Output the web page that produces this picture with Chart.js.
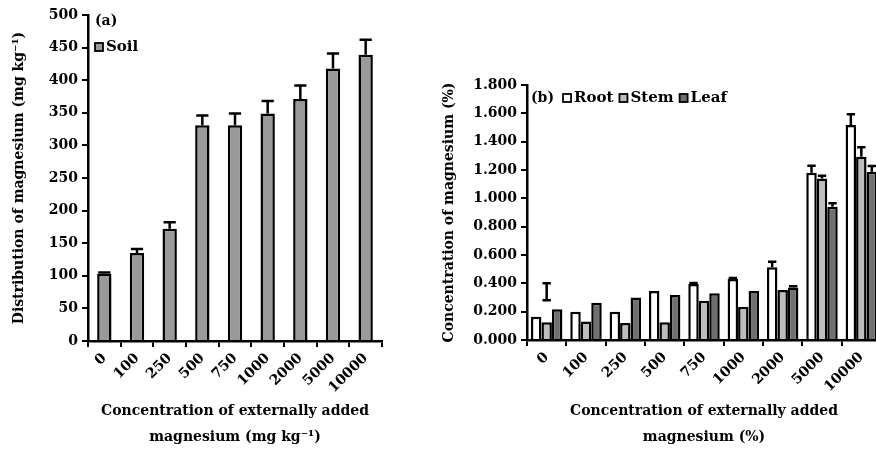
<!DOCTYPE html>
<html>
<head>
<meta charset="utf-8">
<script src="https://cdn.jsdelivr.net/npm/chart.js@4.4.1/dist/chart.umd.min.js"></script>
<style>
  html, body { margin: 0; padding: 0; background: #fff; overflow: hidden; width: 876px; height: 451px; }
  #wrap-a { position: absolute; left: 0; top: 0; width: 410px; height: 451px; }
  #wrap-b { position: absolute; left: 430px; top: 0; width: 460px; height: 451px; }
</style>
</head>
<body>
<div id="wrap-a"><canvas id="chart-a"></canvas></div>
<div id="wrap-b"><canvas id="chart-b"></canvas></div>
<script>
// data
const categories = ['0', '100', '250', '500', '750', '1000', '2000', '5000', '10000'];

// panel (a) soil, mg/kg
const soil    = [103, 135, 172, 331, 331, 349, 371, 418, 439];
const soilErr = [2, 6, 10, 15, 18, 19, 21, 23, 23];

// panel (b) plant parts, %
const root    = [0.165, 0.200, 0.200, 0.346, 0.395, 0.430, 0.513, 1.180, 1.517];
const rootErr = [0, 0, 0, 0, 0.008, 0.008, 0.040, 0.050, 0.076];
const stem    = [0.125, 0.130, 0.120, 0.125, 0.277, 0.235, 0.353, 1.140, 1.294];
const stemErr = [0, 0, 0, 0, 0, 0, 0, 0.020, 0.066];
const leaf    = [0.217, 0.263, 0.300, 0.318, 0.330, 0.346, 0.370, 0.940, 1.188];
const leafErr = [0, 0, 0, 0, 0, 0, 0.010, 0.025, 0.040];
// the lone error mark floating above the 0 group (low, high)
const strayErr = [0.28, 0.40];

const FONT = 'DejaVu Serif';
Chart.defaults.font.family = FONT;
Chart.defaults.font.weight = 'bold';
Chart.defaults.color = '#000';

// upper error bars with a cap
const errorBars = {
  id: 'errorBars',
  afterDatasetsDraw(chart, args, opts) {
    const ctx = chart.ctx;
    const y = chart.scales.y;
    ctx.save();
    ctx.strokeStyle = '#000';
    ctx.lineWidth = 2.5;
    chart.data.datasets.forEach((ds, di) => {
      if (!ds.err) return;
      const meta = chart.getDatasetMeta(di);
      meta.data.forEach((bar, i) => {
        const e = ds.err[i];
        if (!e) return;
        const top = y.getPixelForValue(ds.data[i] + e);
        const cap = bar.width * opts.cap;
        ctx.beginPath();
        ctx.moveTo(bar.x, bar.y);
        ctx.lineTo(bar.x, top);
        ctx.moveTo(bar.x - cap / 2, top);
        ctx.lineTo(bar.x + cap / 2, top);
        ctx.stroke();
      });
      if (ds.stray) {
        const bar = meta.data[0];
        const lo = y.getPixelForValue(ds.stray[0]);
        const hi = y.getPixelForValue(ds.stray[1]);
        const cap = bar.width * 0.8;
        ctx.beginPath();
        ctx.moveTo(bar.x, lo);
        ctx.lineTo(bar.x, hi);
        ctx.moveTo(bar.x - cap / 2, lo);
        ctx.lineTo(bar.x + cap / 2, lo);
        ctx.moveTo(bar.x - cap / 2, hi);
        ctx.lineTo(bar.x + cap / 2, hi);
        ctx.stroke();
      }
    });
    ctx.restore();
  }
};

// panel tag + legend inside the plot, top-left
const panelLegend = {
  id: 'panelLegend',
  afterDraw(chart, args, opts) {
    const ctx = chart.ctx;
    const area = chart.chartArea;
    ctx.save();
    ctx.font = 'bold 14px ' + FONT;
    ctx.textBaseline = 'middle';
    ctx.fillStyle = '#000';
    let x = area.left + opts.dx;
    let y = area.top + opts.tagDy;
    ctx.fillText(opts.tag, x, y);
    if (opts.inline) {
      x += ctx.measureText(opts.tag).width + 9;
    } else {
      y = area.top + opts.itemDy;
    }
    ctx.font = 'bold 15px ' + FONT;
    chart.data.datasets.forEach(ds => {
      ctx.fillStyle = ds.backgroundColor;
      ctx.fillRect(x, y - 4, 8, 8);
      ctx.strokeStyle = '#000';
      ctx.lineWidth = 1.8;
      ctx.strokeRect(x, y - 4, 8, 8);
      ctx.fillStyle = '#000';
      ctx.fillText(ds.label, x + 11, y);
      x += 11 + ctx.measureText(ds.label).width + 6;
    });
    ctx.restore();
  }
};

function axes(opts) {
  return {
    x: {
      grid: { display: true, drawOnChartArea: false, drawTicks: true, tickLength: 6, color: '#000', lineWidth: 2 },
      border: { display: true, color: '#000', width: 2.5 },
      ticks: { minRotation: 45, maxRotation: 45, autoSkip: false, padding: 3, font: { size: 14, weight: 'bold' } },
      title: {
        display: true,
        text: opts.xTitle,
        font: { size: 14, weight: 'bold', lineHeight: 1.86 },
        padding: { top: 0, bottom: 1 }
      },
      afterFit: s => { s.height = opts.xHeight; }
    },
    y: {
      min: 0,
      max: opts.yMax,
      grid: { display: true, drawOnChartArea: false, drawTicks: true, tickLength: 6, color: '#000', lineWidth: 2 },
      border: { display: true, color: '#000', width: 2.5 },
      ticks: { stepSize: opts.yStep, padding: 4, font: { size: 14, weight: 'bold' }, callback: opts.yFmt },
      title: {
        display: true,
        text: opts.yTitle,
        font: { size: 14, weight: 'bold' },
        padding: { top: 11, bottom: 0 }
      },
      afterFit: s => { s.width = opts.yWidth; }
    }
  };
}

new Chart(document.getElementById('chart-a'), {
  type: 'bar',
  data: {
    labels: categories,
    datasets: [{
      label: 'Soil',
      data: soil,
      err: soilErr,
      backgroundColor: '#9a9a9a',
      borderColor: '#000',
      borderWidth: 2.5,
      categoryPercentage: 1,
      barPercentage: 0.44
    }]
  },
  options: {
    responsive: true,
    maintainAspectRatio: false,
    animation: false,
    layout: { padding: { top: 15, right: 28, bottom: 0, left: 0 } },
    plugins: {
      legend: { display: false },
      tooltip: { enabled: false },
      errorBars: { cap: 0.85 },
      panelLegend: { tag: '(a)', dx: 7, tagDy: 6, itemDy: 32, inline: false }
    },
    scales: axes({
      xTitle: ['Concentration of externally added', 'magnesium (mg kg\u207B\u00B9)'],
      yTitle: 'Distribution of magnesium (mg kg\u207B\u00B9)',
      yMax: 500, yStep: 50, yFmt: v => v,
      xHeight: 110, yWidth: 88
    })
  },
  plugins: [errorBars, panelLegend]
});

new Chart(document.getElementById('chart-b'), {
  type: 'bar',
  data: {
    labels: categories,
    datasets: [
      { label: 'Root', data: root, err: rootErr, backgroundColor: '#ffffff' },
      { label: 'Stem', data: stem, err: stemErr, stray: strayErr, backgroundColor: '#bdbdbd' },
      { label: 'Leaf', data: leaf, err: leafErr, backgroundColor: '#707070' }
    ].map(ds => Object.assign(ds, {
      borderColor: '#000', borderWidth: 2.5, categoryPercentage: 0.8, barPercentage: 1
    }))
  },
  options: {
    responsive: true,
    maintainAspectRatio: false,
    animation: false,
    layout: { padding: { top: 85, right: 9, bottom: 0, left: 0 } },
    plugins: {
      legend: { display: false },
      tooltip: { enabled: false },
      errorBars: { cap: 0.8 },
      panelLegend: { tag: '(b)', dx: 4, tagDy: 13, inline: true }
    },
    scales: axes({
      xTitle: ['Concentration of externally added', 'magnesium (%)'],
      yTitle: 'Concentration of magnesium (%)',
      yMax: 1.8, yStep: 0.2, yFmt: v => v.toFixed(3),
      xHeight: 111, yWidth: 97
    })
  },
  plugins: [errorBars, panelLegend]
});
</script>
</body>
</html>
